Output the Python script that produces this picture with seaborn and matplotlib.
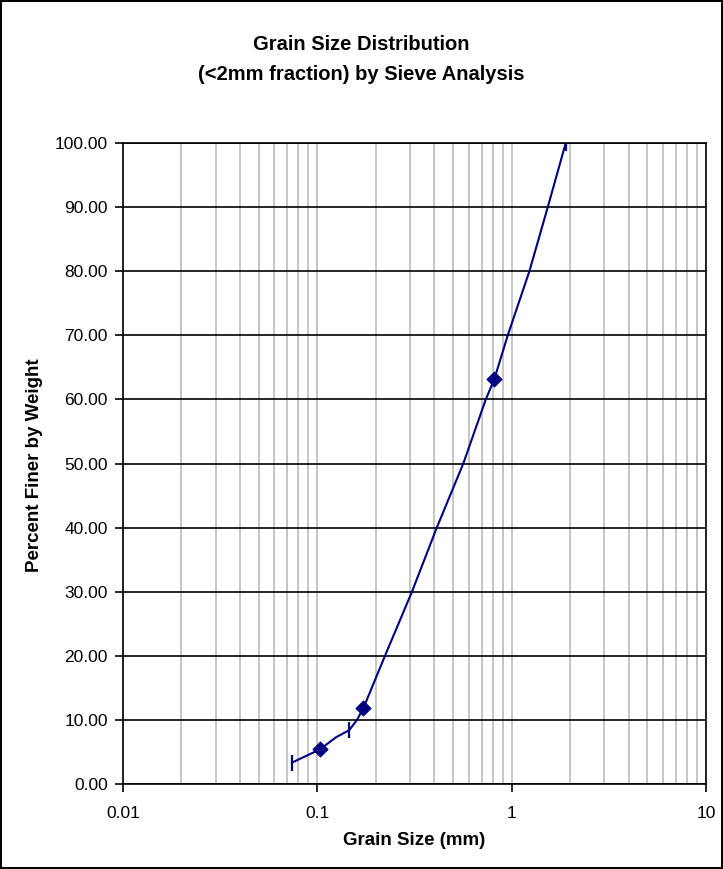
import numpy as np
import pandas as pd
import matplotlib
matplotlib.use("Agg")
import matplotlib.pyplot as plt
import seaborn as sns
from matplotlib.ticker import FixedLocator, FuncFormatter, LogLocator, NullFormatter

# --- data ---
curve_size = [0.0739, 0.1033, 0.125, 0.146, 0.160, 0.1725, 0.223, 0.307, 0.412, 0.564, 0.736, 0.815, 0.955, 1.234, 1.534, 1.898]
curve_finer = [3.32, 5.41, 7.3, 8.4, 10.0, 11.8, 20.0, 30.0, 40.0, 50.0, 60.0, 63.2, 70.0, 80.0, 90.0, 100.0]

diamond_size = [0.1033, 0.1725, 0.815]
diamond_finer = [5.41, 11.8, 63.2]

dash_size = [0.0739, 0.146, 1.898]
dash_finer = [3.32, 8.4, 100.0]

y_ticks = list(range(0, 101, 10))
x_ticks = [0.01, 0.1, 1, 10]

curve = pd.DataFrame({"size": curve_size, "finer": curve_finer})
diamonds = pd.DataFrame({"size": diamond_size, "finer": diamond_finer})
dashes = pd.DataFrame({"size": dash_size, "finer": dash_finer})

sns.set_style("white")
plt.rcParams["font.family"] = ["Liberation Sans", "DejaVu Sans"]
plt.rcParams.update({"text.color": "black", "axes.labelcolor": "black",
                     "xtick.color": "black", "ytick.color": "black"})

fig = plt.figure(figsize=(7.23, 8.69), dpi=100)
fig.patch.set_edgecolor("black")
fig.patch.set_linewidth(1.5)
ax = fig.add_axes([0.170, 0.0978, 0.8065, 0.7376])

navy = "#000080"
sns.lineplot(data=curve, x="size", y="finer", ax=ax, color=navy, lw=1.5, sort=False)
sns.scatterplot(data=diamonds, x="size", y="finer", ax=ax, marker="D", s=60,
                color=navy, edgecolor=navy, zorder=5)
ax.plot(dashes["size"], dashes["finer"], ls="none", marker="|", ms=11, mew=1.6, color=navy, zorder=5)

ax.set_xscale("log")
ax.set_xlim(0.01, 10)
ax.set_ylim(0, 100)

ax.xaxis.set_major_locator(FixedLocator(x_ticks))
ax.xaxis.set_major_formatter(FuncFormatter(lambda v, p: f"{v:g}"))
ax.xaxis.set_minor_locator(LogLocator(base=10, subs=np.arange(2, 10)))
ax.xaxis.set_minor_formatter(NullFormatter())
ax.yaxis.set_major_locator(FixedLocator(y_ticks))
ax.yaxis.set_major_formatter(FuncFormatter(lambda v, p: f"{v:.2f}"))

ax.grid(True, axis="x", which="both", color="#c0c0c0", lw=1.3)
ax.grid(True, axis="y", which="major", color="black", lw=1.2)
ax.set_axisbelow(True)

for s in ax.spines.values():
    s.set_color("black")
    s.set_linewidth(1.2)
ax.spines["top"].set_visible(True)
ax.spines["right"].set_visible(True)

ax.tick_params(axis="both", which="major", direction="out", length=6, width=1.2,
               color="black", labelcolor="black", labelsize=12.5, bottom=True, left=True)
ax.tick_params(axis="y", pad=5)
ax.tick_params(axis="x", which="minor", length=0)
ax.tick_params(axis="x", pad=10)

ax.set_xlabel("Grain Size (mm)", fontsize=13.5, fontweight="bold", color="black")
ax.xaxis.set_label_coords(0.5, -0.075)
ax.set_ylabel("Percent Finer by Weight", fontsize=13.5, fontweight="bold", color="black")
ax.yaxis.set_label_coords(-0.137, 0.497)

fig.text(0.5, 1 - 45 / 869, "Grain Size Distribution",
         ha="center", va="center", fontsize=14.5, fontweight="bold", color="black")
fig.text(0.5, 1 - 75 / 869, "(<2mm fraction) by Sieve Analysis",
         ha="center", va="center", fontsize=14.5, fontweight="bold", color="black")

fig.savefig("out.png", dpi=100)
